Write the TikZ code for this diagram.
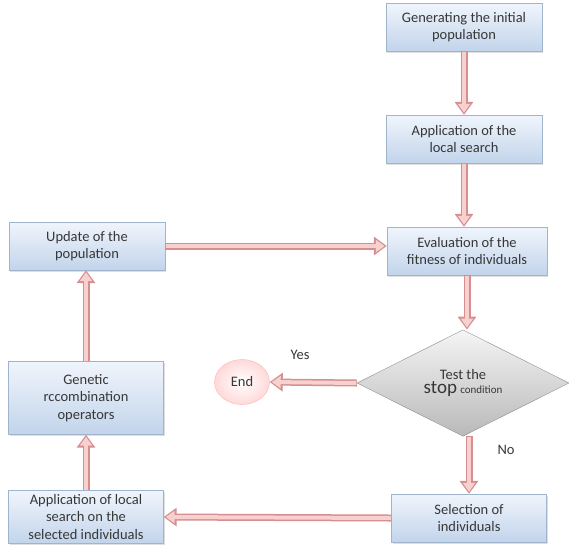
\documentclass[tikz,border=0pt]{standalone}
\usepackage{fontspec}
\setmainfont{Carlito}
\usetikzlibrary{positioning, arrows.meta, shapes.geometric, shadows}

\definecolor{boxtop}{RGB}{240,245,252}
\definecolor{boxbot}{RGB}{194,212,235}
\definecolor{boxline}{RGB}{160,180,205}
\definecolor{arrline}{RGB}{214,142,142}
\definecolor{arrfill}{RGB}{247,208,208}
\definecolor{textgray}{RGB}{55,55,55}

\begin{document}
\begin{tikzpicture}[x=1pt, y=-1pt,
    every node/.style={font=\fontsize{14.5}{17.5}\selectfont, align=center, text=textgray},
    box/.style={rectangle, draw=boxline, top color=boxtop, bottom color=boxbot,
      minimum width=156pt, minimum height=48pt, inner sep=2pt,
      drop shadow={opacity=0.25, shadow xshift=1pt, shadow yshift=-1.5pt}},
    decision/.style={diamond, draw=gray!90, top color=gray!8, bottom color=gray!55,
      minimum width=212pt, minimum height=76pt, inner sep=0pt},
    endnode/.style={ellipse, draw=red!30, inner color=white, outer color=red!15,
      minimum width=55pt, minimum height=45pt, inner sep=0pt},
    flowarrow/.style={line width=7pt, draw=arrline,
      -{Triangle[length=13pt, width=18pt]},
      postaction={draw=arrfill, line width=4pt,
        -{Triangle[length=9pt, width=12pt]}, shorten >=2pt, shorten <=0.5pt}}]
    % page
    \useasboundingbox (0,0) rectangle (569,555);

    % right column
    \node[box] (gen) at (464,27) {Generating the initial\\population};
    \node[box] (loc) at (464,139) {Application of the\\local search};
    \node[box, minimum width=160pt] (eval) at (467,251) {Evaluation of the\\fitness of individuals};
    \node[decision] (test) at (463,383) {Test the\\[-3pt]{\fontsize{19}{19}\selectfont stop} {\fontsize{11}{11}\selectfont condition}};
    \node[box, minimum width=155pt] (sel) at (469,518) {Selection of\\individuals};

    % left column
    \node[box] (upd) at (87,246) {Update of the\\population};
    \node[box, minimum height=73pt, minimum width=155pt] (gop) at (86,398) {Genetic\\rccombination\\operators};
    \node[box, minimum height=53pt, minimum width=155pt] (als) at (86,517) {Application of local\\search on the\\selected individuals};

    % end
    \node[endnode] (fin) at (242,382) {End};

    % labels
    \node (yes) at (300,355) {Yes};
    \node (no) at (506,450) {No};

    % connectors
    \draw[flowarrow] (gen.south) -- (loc.north);
    \draw[flowarrow] (loc.south) -- (loc.south |- eval.north);
    \draw[flowarrow] (eval.south) -- (eval.south |- test.north);
    \draw[flowarrow] (test.south -| sel.north) -- (sel.north);
    \draw[flowarrow] (test.west) -- (fin.east);
    \draw[flowarrow] (sel.west) -- (als.east);
    \draw[flowarrow] (als.north) -- (gop.south);
    \draw[flowarrow] (gop.north) -- (gop.north |- upd.south);
    \draw[flowarrow] (upd.east) -- (upd.east -| eval.west);
\end{tikzpicture}
\end{document}
